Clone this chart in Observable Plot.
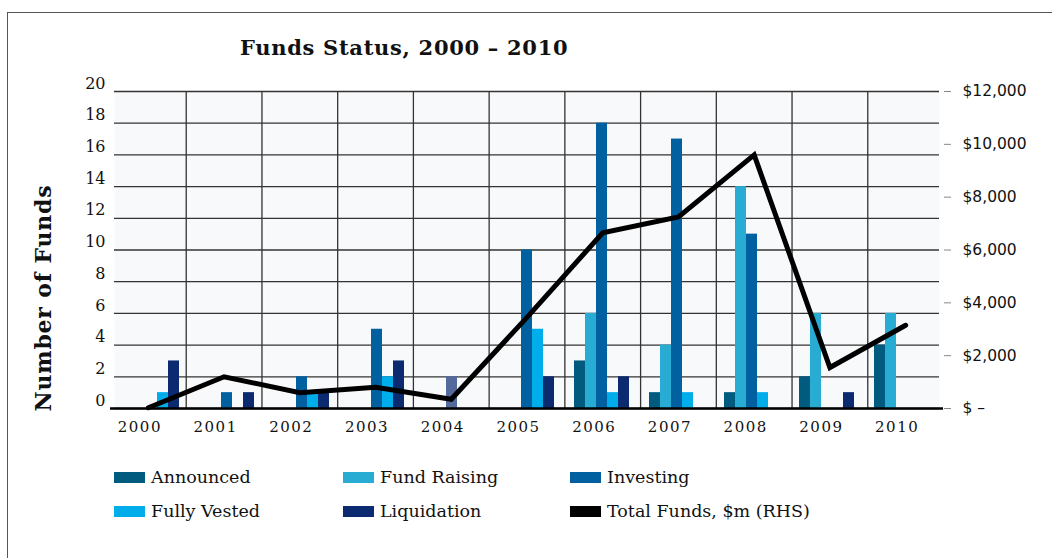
<!DOCTYPE html>
<html>
<head>
<meta charset="utf-8">
<script src="https://cdn.jsdelivr.net/npm/d3@7"></script>
<script src="https://cdn.jsdelivr.net/npm/@observablehq/plot@0.6"></script>
<style>
  body { margin: 0; background: #fff; }
  #wrap { position: relative; width: 1052px; height: 558px; overflow: hidden; font-family: "DejaVu Serif", serif; color: #111; }
  #wrap svg { position: absolute; left: 0; top: 0; background: transparent; }
  #border { position: absolute; left: 7px; top: 12px; width: 1200px; height: 700px; border-left: 1.5px solid #555; border-top: 1.5px solid #555; }
  #title { position: absolute; left: 240px; top: 35px; font-weight: bold; font-size: 21px; letter-spacing: 0.7px; white-space: nowrap; }
  #ylabel { position: absolute; left: 43px; top: 298px; transform: translate(-50%, -50%) rotate(-90deg); font-weight: bold; font-size: 22px; letter-spacing: 0.8px; white-space: nowrap; }
  .leg { position: absolute; display: flex; align-items: center; font-size: 17.5px; white-space: nowrap; height: 20px; }
  .sw { width: 31px; height: 11px; margin-right: 6px; }
</style>
</head>
<body>
<div id="wrap">
  <div id="border"></div>
  <div id="title">Funds Status, 2000 – 2010</div>
  <div id="ylabel">Number of Funds</div>
</div>
<script>
const years = [2000, 2001, 2002, 2003, 2004, 2005, 2006, 2007, 2008, 2009, 2010];
const seriesNames = ["Announced", "Fund Raising", "Investing", "Fully Vested", "Liquidation"];
const announced   = [0, 0, 0, 0, 0, 0, 3, 1, 1, 2, 4];
const fundRaising = [0, 0, 0, 0, 0, 0, 6, 4, 14, 6, 6];
const investing   = [0, 1, 2, 5, 2, 10, 18, 17, 11, 0, 0];
const fullyVested = [1, 0, 1, 2, 0, 5, 1, 1, 1, 0, 0];
const liquidation = [3, 1, 1, 3, 0, 2, 2, 0, 0, 1, 0];
const totalFunds  = [30, 1200, 600, 800, 350, 3450, 6650, 7250, 9600, 1550, 3150];
const totalLabel = "Total Funds, $m (RHS)";
const leftTicks  = [0, 2, 4, 6, 8, 10, 12, 14, 16, 18, 20];
const rightTicks = [0, 2000, 4000, 6000, 8000, 10000, 12000];

const seriesColors = ["#005b7f", "#29acd4", "#0060a0", "#00adeb", "#0c2a70"];
const highlightColor = "#546a9c"; // the odd-coloured 2004 Investing bar
const seriesValues = [announced, fundRaising, investing, fullyVested, liquidation];

const rows = [];
years.forEach((yr, i) => seriesNames.forEach((s, j) => rows.push({
  year: String(yr), series: s, value: seriesValues[j][i],
  color: (yr === 2004 && s === "Investing") ? highlightColor : seriesColors[j]
})));
const lineData = years.map((yr, i) => ({year: yr, total: totalFunds[i]}));

const W = 1052, H = 558;
const M = {left: 110, right: 109, top: 91, bottom: 150};
const serif = "DejaVu Serif, serif";

// Layer A: background, horizontal grid, grouped bars, left axis
const plotA = Plot.plot({
  width: W, height: H,
  marginLeft: M.left, marginRight: M.right, marginTop: M.top, marginBottom: M.bottom,
  style: {background: "transparent", overflow: "visible"},
  fx: {domain: years.map(String), padding: 0, axis: null},
  x: {domain: seriesNames, paddingInner: 0, paddingOuter: 0.82, axis: null},
  y: {domain: [0, 20], axis: null},
  marks: [
    Plot.frame({fill: "#f8f9fb", stroke: "none"}),
    Plot.ruleY(leftTicks, {stroke: "#333", strokeWidth: 1.3}),
    Plot.barY(rows.filter(d => d.value > 0), {fx: "year", x: "series", y: "value", fill: d => d.color}),
    Plot.axisY(leftTicks, {anchor: "left", tickSize: 0, tickPadding: 9, dy: -8, label: null,
      fontSize: 16, fontFamily: serif, fill: "#111", tickFormat: d => String(d)})
  ]
});

// Layer B: vertical separators, baseline, total-funds line, x labels, right axis
const plotB = Plot.plot({
  width: W, height: H,
  marginLeft: M.left, marginRight: M.right, marginTop: M.top, marginBottom: M.bottom,
  style: {background: "transparent", overflow: "visible"},
  x: {domain: [years[0] - 0.5, years[years.length - 1] + 0.5], axis: null},
  y: {domain: [0, rightTicks[rightTicks.length - 1]], axis: null},
  marks: [
    Plot.ruleX(years.slice(1).map(y => y - 0.5), {y1: 0, y2: rightTicks[rightTicks.length - 1], stroke: "#333", strokeWidth: 1.3}),
    Plot.ruleY([0], {stroke: "#000", strokeWidth: 2.5}),
    Plot.line(lineData, {x: "year", y: "total", stroke: "#000", strokeWidth: 5, strokeLinejoin: "miter", strokeMiterlimit: 10}),
    Plot.axisX(years, {anchor: "bottom", tickSize: 0, tickPadding: 13, dx: -8.5, label: null,
      fontSize: 15, fontFamily: serif, fill: "#111", tickFormat: d => String(d)}),
    Plot.axisY(rightTicks, {anchor: "right", tickSize: 7, tickPadding: 12, label: null,
      stroke: "#888", fill: "#111", fontSize: 15.5, fontFamily: "DejaVu Sans, sans-serif",
      tickFormat: d => d === 0 ? "$ –" : "$" + d3.format(",")(d)})
  ]
});

const wrap = document.getElementById("wrap");
wrap.insertBefore(plotA, document.getElementById("title"));
wrap.insertBefore(plotB, document.getElementById("title"));
plotB.querySelectorAll("[aria-label='x-axis tick label'] text").forEach(t => t.style.letterSpacing = "1.5px");

// Legend (HTML, below the chart area)
const legendItems = seriesNames.map((s, j) => ({label: s, color: seriesColors[j]}))
  .concat([{label: totalLabel, color: "#000"}]);
const legCols = [114, 343, 570], legRows = [467, 501];
legendItems.forEach((it, i) => {
  const d = document.createElement("div");
  d.className = "leg";
  d.style.left = legCols[i % 3] + "px";
  d.style.top = legRows[Math.floor(i / 3)] + "px";
  const sw = document.createElement("div");
  sw.className = "sw";
  sw.style.background = it.color;
  const tx = document.createElement("span");
  tx.textContent = it.label;
  d.appendChild(sw); d.appendChild(tx);
  wrap.appendChild(d);
});
</script>
</body>
</html>
